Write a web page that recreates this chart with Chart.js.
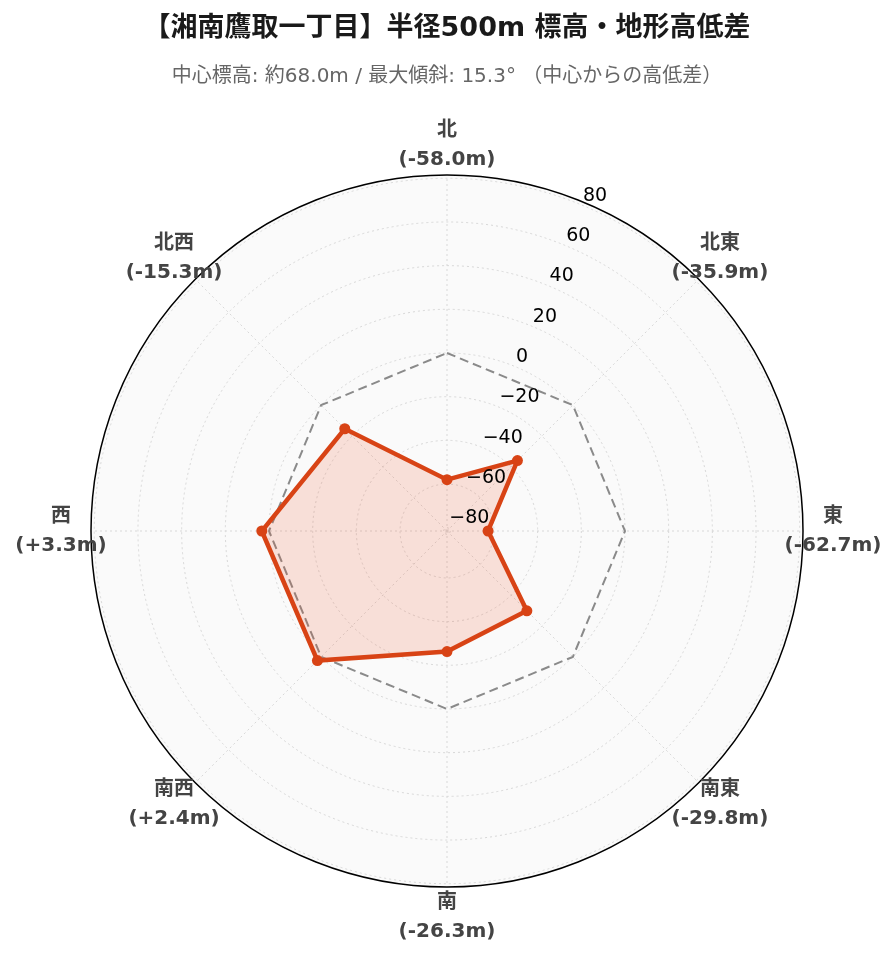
<!DOCTYPE html>
<html lang="ja">
<head>
    <meta charset="UTF-8">
    <title>湘南鷹取一丁目 標高・地形高低差</title>
    <script src="https://cdn.jsdelivr.net/npm/chart.js"></script>
    <style>
        * { margin: 0; padding: 0; box-sizing: border-box; }
        body { background: #fff; width: 896px; height: 962px; overflow: hidden; }
        #radarChart { display: block; }
    </style>
</head>
<body>
    <canvas id="radarChart" width="896" height="962"></canvas>

    <script>
        // data
        const directions = ['北', '北東', '東', '南東', '南', '南西', '西', '北西'];
        const elevationDiff = [-58.0, -35.9, -62.7, -29.8, -26.3, 2.4, 3.3, -15.3];
        const baseline = [0, 0, 0, 0, 0, 0, 0, 0];
        const radialMin = -81.5;
        const radialMax = 81.5;
        const tickStep = 20;

        const FONT = "'DejaVu Sans', 'Noto Sans CJK JP', sans-serif";

        function fmtDiff(v) {
            return '(' + (v >= 0 ? '+' : '') + v.toFixed(1) + 'm)';
        }

        // outer ring, rotated tick labels and two-line direction labels
        const polarDecor = {
            id: 'polarDecor',
            beforeDatasetsDraw(chart) {
                const r = chart.scales.r;
                const ctx = chart.ctx;
                ctx.save();
                ctx.beginPath();
                ctx.arc(r.xCenter, r.yCenter, r.drawingArea, 0, Math.PI * 2);
                ctx.strokeStyle = '#000';
                ctx.lineWidth = 1.5;
                ctx.stroke();
                ctx.restore();
            },
            afterDatasetsDraw(chart) {
                const r = chart.scales.r;
                const ctx = chart.ctx;
                ctx.save();

                // tick labels along the 22.5° ray
                const ang = Math.PI / 8;
                ctx.font = '19px ' + FONT;
                ctx.fillStyle = '#000';
                ctx.textAlign = 'left';
                ctx.textBaseline = 'middle';
                r.ticks.forEach(t => {
                    const d = r.getDistanceFromCenterForValue(t.value);
                    const x = r.xCenter + Math.sin(ang) * d;
                    const y = r.yCenter - Math.cos(ang) * d;
                    const txt = String(t.value).replace('-', '\u2212');
                    ctx.fillText(txt, x + 1, y - 9.5);
                });

                // direction labels
                ctx.font = 'bold 20px ' + FONT;
                ctx.fillStyle = '#444';
                ctx.textAlign = 'center';
                directions.forEach((name, i) => {
                    const p = r.getPointPosition(i, r.drawingArea + 30);
                    ctx.fillText(name, p.x, p.y - 14.5);
                    ctx.fillText(fmtDiff(elevationDiff[i]), p.x, p.y + 14.5);
                });
                ctx.restore();
            }
        };

        new Chart(document.getElementById('radarChart').getContext('2d'), {
            type: 'radar',
            data: {
                labels: directions,
                datasets: [{
                    label: '高低差',
                    data: elevationDiff,
                    borderColor: '#d84315',
                    backgroundColor: 'rgba(240, 90, 50, 0.17)',
                    borderWidth: 4.5,
                    fill: 'start',
                    pointRadius: 5.5,
                    pointBackgroundColor: '#d84315',
                    pointBorderWidth: 0
                }, {
                    label: '中心 (0m)',
                    data: baseline,
                    borderColor: '#8a8a8a',
                    borderWidth: 2,
                    borderDash: [9, 5],
                    fill: false,
                    pointRadius: 0
                }]
            },
            options: {
                responsive: false,
                animation: false,
                devicePixelRatio: 1,
                layout: {
                    padding: { left: 91, right: 93, top: 0, bottom: 75 }
                },
                plugins: {
                    legend: { display: false },
                    tooltip: { enabled: false },
                    title: {
                        display: true,
                        text: '【湘南鷹取一丁目】半径500m 標高・地形高低差',
                        color: '#1a1a1a',
                        font: { family: FONT, size: 27, weight: 'bold', lineHeight: 1.2 },
                        padding: { top: 13, bottom: 19 }
                    },
                    subtitle: {
                        display: true,
                        text: '中心標高: 約68.0m / 最大傾斜: 15.3° （中心からの高低差）',
                        color: '#666',
                        font: { family: FONT, size: 20, lineHeight: 1.2 },
                        padding: { top: 0, bottom: 86.6 }
                    }
                },
                scales: {
                    r: {
                        min: radialMin,
                        max: radialMax,
                        backgroundColor: '#fafafa',
                        ticks: { display: false, stepSize: tickStep, includeBounds: false },
                        pointLabels: { display: false },
                        grid: { circular: true, color: '#d8d8d8', lineWidth: 1 },
                        border: { dash: [2, 3] },
                        angleLines: { color: '#d8d8d8', lineWidth: 1, borderDash: [2, 3] }
                    }
                }
            },
            plugins: [polarDecor]
        });
    </script>
</body>
</html>
